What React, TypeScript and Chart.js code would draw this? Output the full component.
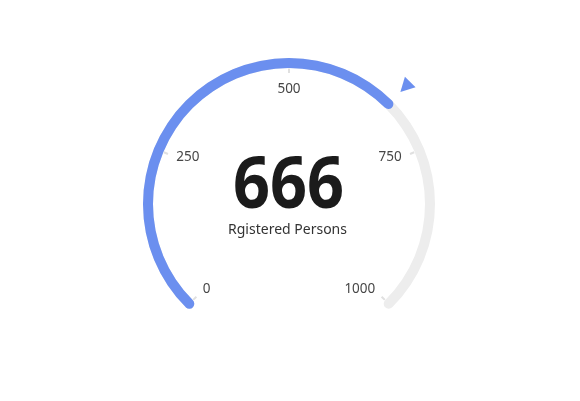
import React, { useEffect, useRef } from 'react';
import { Chart, registerables } from 'chart.js';

Chart.register(...registerables);

// ---- data ----
const gaugeMin = 0;
const gaugeMax = 1000;
const gaugeValue = 666;
const tickValues = [0, 250, 500, 750, 1000];
const tickLabels = ['0', '250', '500', '750', '1000'];
const detailText = '666';
const titleText = 'Rgistered Persons';

// ---- style ----
const BLUE = '#6b8fef';
const TRACK = '#ededed';
const TICK_COLOR = '#e0e0e0';
const LABEL_COLOR = '#464646';
const FONT = '"Noto Sans", "Open Sans", sans-serif';
const SWEEP = 270;
const OUTER_R = 146;
const INNER_R = 136;
// round caps extend beyond the arc ends by half the thickness
const CAP_DEG = (((OUTER_R - INNER_R) / 2) / ((OUTER_R + INNER_R) / 2)) * (180 / Math.PI);
const CAP_VAL = (CAP_DEG / SWEEP) * (gaugeMax - gaugeMin);
const CAP_RAD = (CAP_DEG * Math.PI) / 180;

const gaugePlugin = {
  id: 'gaugeDecor',
  afterDatasetsUpdate(chart: any) {
    const metas = [chart.getDatasetMeta(0), chart.getDatasetMeta(1)];
    let outer = 0;
    let inner = Infinity;
    metas.forEach((m: any) =>
      m.data.forEach((a: any) => {
        outer = Math.max(outer, a.outerRadius);
        inner = Math.min(inner, a.innerRadius);
      })
    );
    metas.forEach((m: any) =>
      m.data.forEach((a: any) => {
        a.outerRadius = outer;
        a.innerRadius = inner;
      })
    );
  },
  afterDatasetsDraw(chart: any) {
    const ctx = chart.ctx as CanvasRenderingContext2D;
    const track = chart.getDatasetMeta(1).data[0];
    const cx = track.x;
    const cy = track.y;
    const inner = track.innerRadius;
    const outer = track.outerRadius;
    const a0 = track.startAngle + CAP_RAD;
    const a1 = track.endAngle - CAP_RAD;
    const angleOf = (v: number) => a0 + ((v - gaugeMin) / (gaugeMax - gaugeMin)) * (a1 - a0);

    ctx.save();
    // ticks
    ctx.strokeStyle = TICK_COLOR;
    ctx.lineWidth = 2;
    tickValues.forEach((v) => {
      const a = angleOf(v);
      ctx.beginPath();
      ctx.moveTo(cx + Math.cos(a) * (inner - 5), cy + Math.sin(a) * (inner - 5));
      ctx.lineTo(cx + Math.cos(a) * (inner - 0.5), cy + Math.sin(a) * (inner - 0.5));
      ctx.stroke();
    });

    // tick labels
    ctx.fillStyle = LABEL_COLOR;
    ctx.font = `13.5px ${FONT}`;
    const labelR = inner - 14;
    tickValues.forEach((v, i) => {
      const a = angleOf(v);
      const ux = Math.cos(a);
      const uy = Math.sin(a);
      ctx.textAlign = ux < -0.4 ? 'left' : ux > 0.4 ? 'right' : 'center';
      ctx.textBaseline = uy < -0.8 ? 'top' : 'middle';
      ctx.fillText(tickLabels[i], cx + ux * labelR, cy + uy * labelR - (uy > 0.4 ? 1.5 : 0));
    });

    // pointer triangle outside the arc at the value
    const va = angleOf(gaugeValue);
    const tipR = outer + 12;
    const baseR = outer + 26;
    const half = 7.5;
    const ux = Math.cos(va);
    const uy = Math.sin(va);
    const px = -uy;
    const py = ux;
    ctx.fillStyle = BLUE;
    ctx.beginPath();
    ctx.moveTo(cx + ux * tipR, cy + uy * tipR);
    ctx.lineTo(cx + ux * baseR + px * half, cy + uy * baseR + py * half);
    ctx.lineTo(cx + ux * baseR - px * half, cy + uy * baseR - py * half);
    ctx.closePath();
    ctx.fill();

    // detail
    ctx.fillStyle = '#1b1b1b';
    ctx.textAlign = 'center';
    ctx.textBaseline = 'alphabetic';
    ctx.font = `bold 72px ${FONT}`;
    ctx.save();
    ctx.translate(cx - 0.5, cy + 3.5);
    ctx.scale(0.9, 1);
    ctx.fillText(detailText, 0, 0);
    ctx.restore();

    ctx.fillStyle = '#333333';
    ctx.font = `14px ${FONT}`;
    ctx.fillText(titleText, cx - 1.5, cy + 29.5);
    ctx.restore();
  },
};

export default function App() {
  const ref = useRef<HTMLCanvasElement>(null);
  useEffect(() => {
    if (!ref.current) return;
    const chart = new Chart(ref.current, {
      type: 'doughnut',
      data: {
        labels: ['value', 'rest'],
        datasets: [
          {
            data: [gaugeValue - gaugeMin + 2 * CAP_VAL, gaugeMax - gaugeValue],
            backgroundColor: [BLUE, 'rgba(0,0,0,0)'],
            borderWidth: 0,
            borderRadius: 5,
          },
          {
            data: [gaugeMax - gaugeMin + 2 * CAP_VAL],
            backgroundColor: [TRACK],
            borderWidth: 0,
            borderRadius: 5,
          },
        ],
      },
      options: {
        animation: false,
        responsive: false,
        events: [],
        rotation: -SWEEP / 2 - CAP_DEG,
        circumference: SWEEP + 2 * CAP_DEG,
        radius: OUTER_R,
        cutout: `${(INNER_R / OUTER_R) * 100}%`,
        layout: { padding: { left: 0, right: 2, top: 0, bottom: 32 } },
        plugins: { legend: { display: false }, tooltip: { enabled: false } },
      },
      plugins: [gaugePlugin],
    } as any);
    return () => chart.destroy();
  }, []);
  return (
    <div style={{ position: 'absolute', left: 0, top: 0, width: 580, height: 401, background: '#fff' }}>
      <canvas ref={ref} width={580} height={401} style={{ display: 'block' }} />
    </div>
  );
}
